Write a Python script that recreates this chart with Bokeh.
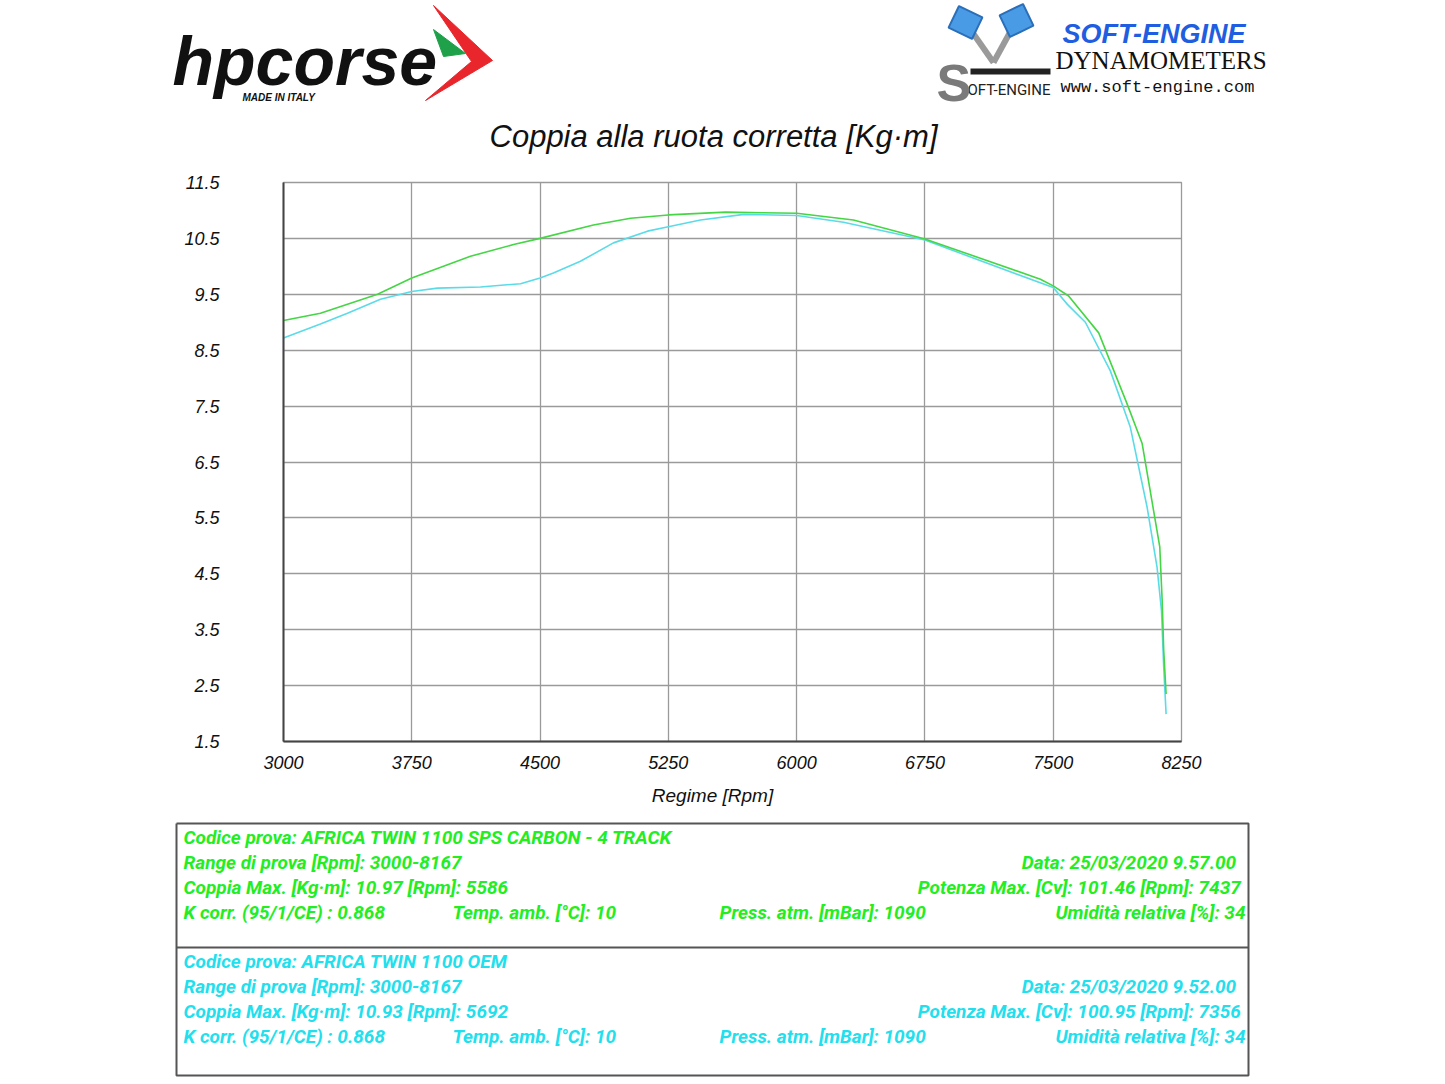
from bokeh.plotting import figure
from bokeh.models import Range1d, FixedTicker
from bokeh.core.properties import value
from bokeh.embed import file_html
from bokeh.resources import INLINE

# ---------------- data ----------------
rpm_sps = [3000, 3216, 3550, 3750, 4093, 4345, 4500, 4812, 5029, 5250, 5586, 5800,
           6000, 6332, 6750, 7425, 7500, 7590, 7766, 7932, 8020, 8123, 8137, 8146, 8160]
torque_sps = [9.03, 9.16, 9.50, 9.79, 10.18, 10.39, 10.50, 10.74, 10.86, 10.92, 10.97, 10.96,
              10.95, 10.83, 10.49, 9.77, 9.65, 9.47, 8.81, 7.54, 6.83, 4.98, 4.02, 3.13, 2.35]

rpm_oem = [3000, 3216, 3374, 3567, 3750, 3900, 4152, 4386, 4500, 4578, 4736, 4929, 5128,
           5250, 5438, 5692, 6000, 6274, 6750, 7500, 7583, 7688, 7834, 7951, 8049,
           8107, 8133, 8146, 8160]
torque_oem = [8.72, 8.97, 9.16, 9.41, 9.55, 9.61, 9.63, 9.69, 9.79, 9.88, 10.09, 10.42, 10.63,
              10.71, 10.83, 10.93, 10.91, 10.79, 10.47, 9.62, 9.32, 9.00, 8.13, 7.12, 5.69,
              4.62, 3.84, 2.83, 1.99]

x_ticks = [3000, 3750, 4500, 5250, 6000, 6750, 7500, 8250]
y_ticks = [1.5, 2.5, 3.5, 4.5, 5.5, 6.5, 7.5, 8.5, 9.5, 10.5, 11.5]

chart_title = "Coppia alla ruota corretta [Kg·m]"
x_label = "Regime [Rpm]"

sps_left = ["Codice prova: AFRICA TWIN 1100  SPS CARBON  -  4 TRACK",
            "Range di prova [Rpm]: 3000-8167",
            "Coppia Max. [Kg·m]: 10.97  [Rpm]: 5586",
            "K corr. (95/1/CE) : 0.868"]
sps_right = ["", "Data: 25/03/2020   9.57.00",
             "Potenza Max. [Cv]: 101.46  [Rpm]: 7437",
             "Umidità relativa [%]: 34"]
oem_left = ["Codice prova: AFRICA TWIN 1100  OEM",
            "Range di prova [Rpm]: 3000-8167",
            "Coppia Max. [Kg·m]: 10.93  [Rpm]: 5692",
            "K corr. (95/1/CE) : 0.868"]
oem_right = ["", "Data: 25/03/2020   9.52.00",
             "Potenza Max. [Cv]: 100.95  [Rpm]: 7356",
             "Umidità relativa [%]: 34"]
temp_txt = "Temp. amb. [°C]: 10"
press_txt = "Press. atm. [mBar]: 1090"

GREEN_LINE = "#44d644"
CYAN_LINE = "#5adbe8"
GREEN_TXT = "#22ee22"
CYAN_TXT = "#22dfee"
W, H = 1445, 1084
FL, FR, FT, FB = 283, 1181, 182, 741   # frame edges in page pixels

# ---------------- main chart ----------------
p = figure(width=W, height=H, x_range=Range1d(3000, 8250), y_range=Range1d(1.5, 11.5),
           output_backend="svg", toolbar_location=None,
           min_border_left=FL, min_border_right=W - FR, min_border_top=FT, min_border_bottom=H - FB)
p.xaxis.ticker = FixedTicker(ticks=x_ticks)
p.yaxis.ticker = FixedTicker(ticks=y_ticks)
p.xgrid.grid_line_color = "#9a9a9a"
p.ygrid.grid_line_color = "#9a9a9a"
p.xgrid.grid_line_width = 1.3
p.ygrid.grid_line_width = 1.3
p.outline_line_color = "#9a9a9a"
p.outline_line_width = 1.3
for ax in (p.xaxis, p.yaxis):
    ax.major_tick_line_color = None
    ax.minor_tick_line_color = None
    ax.axis_line_color = "#444444"
    ax.axis_line_width = 2
    ax.major_label_text_font = "Liberation Sans"
    ax.major_label_text_font_style = "italic"
    ax.major_label_text_font_size = "18px"
    ax.major_label_text_color = "#111111"
p.xaxis.major_label_standoff = 8
p.yaxis.major_label_standoff = 58

p.line(rpm_oem, torque_oem, line_color=CYAN_LINE, line_width=1.6)
p.line(rpm_sps, torque_sps, line_color=GREEN_LINE, line_width=1.6)

# page-pixel coordinate system for the decorations (header, logos, table)
p.extra_x_ranges = {"px": Range1d(FL, FR)}
p.extra_y_ranges = {"px": Range1d(FB, FT)}
PX = dict(x_range_name="px", y_range_name="px", level="overlay")


def txt(x, y, s, font, size, color, style="normal", align="left", base="middle"):
    xs = x if isinstance(x, list) else [x]
    ys = y if isinstance(y, list) else [y]
    ss = s if isinstance(s, list) else [s]
    p.text(x=xs, y=ys, text=ss, text_font=value(font), text_font_style=style,
           text_font_size=size, text_color=color, text_align=align, text_baseline=base, **PX)


# x axis title (placed where the reference has it)
txt(712, 795, x_label, "Liberation Sans", "19px", "#111111", "italic", "center")

# hpcorse logo
txt(172, 60, "hpcorse", "Liberation Sans", "68px", "#111111", "bold italic")
txt(242, 97, "MADE IN ITALY", "Liberation Sans", "10px", "#111111", "bold italic")
red = [(433, 5), (492, 60), (425, 100), (471, 61)]
p.patch(x=[a for a, b in red], y=[b for a, b in red], fill_color="#e8262b", line_color="#e8262b", **PX)
grn = [(433, 29), (465, 53), (443, 56)]
p.patch(x=[a for a, b in grn], y=[b for a, b in grn], fill_color="#1fa14a", line_color="#1fa14a", **PX)

# soft-engine logo
txt(1062, 33, "SOFT-ENGINE", "Liberation Sans", "27px", "#1f5ee0", "bold italic")
txt(1055, 60, "DYNAMOMETERS", "Liberation Serif", "25px", "#111111")
txt(1060, 87, "www.soft-engine.com", "Liberation Mono", "17px", "#111111")
txt(967, 89, "OFT-ENGINE", "Roboto", "15px", "#222222")
txt(936, 82, "S", "Liberation Sans", "52px", "#7a7a7a", "bold")
p.segment(x0=[970], y0=[71], x1=[1050], y1=[71], line_color="#222222", line_width=6, **PX)
p.segment(x0=[993, 993], y0=[62, 62], x1=[965, 1016], y1=[22, 20],
          line_color="#9a9a9a", line_width=6, **PX)
p.rect(x=[965, 1016], y=[22, 20], width=26, height=24, angle=[-0.45, 0.45],
       fill_color="#4a9be6", line_color="#2a6fb8", line_width=2, **PX)
p.circle(x=[993], y=[62], radius=7, fill_color="#d0d0d0", line_color="#555555", **PX)

# chart title
txt(713, 136, chart_title, "Liberation Sans", "31px", "#111111", "italic", "center")

# table
L, R, T, B, M = 176, 1248, 823, 1075, 947
p.line(x=[L, L, R, R, L], y=[T, B, B, T, T], line_color="#555555", line_width=2, **PX)
p.line(x=[L, R], y=[M, M], line_color="#555555", line_width=2, **PX)

TF = "Roboto"


def block(lefts, rights, color, y0):
    ys_ = [y0 + 25 * i for i in range(4)]
    txt([183] * 4, ys_, lefts, TF, "19px", color, "bold italic", "left")
    txt([1245] * 4, ys_, rights, TF, "19px", color, "bold italic", "right")
    txt([452, 719], [ys_[3]] * 2, [temp_txt, press_txt], TF, "19px", color,
        "bold italic", "left")


block(sps_left, sps_right, GREEN_TXT, 837)
block(oem_left, oem_right, CYAN_TXT, 961)

open("out.html", "w").write(file_html(p, INLINE))
